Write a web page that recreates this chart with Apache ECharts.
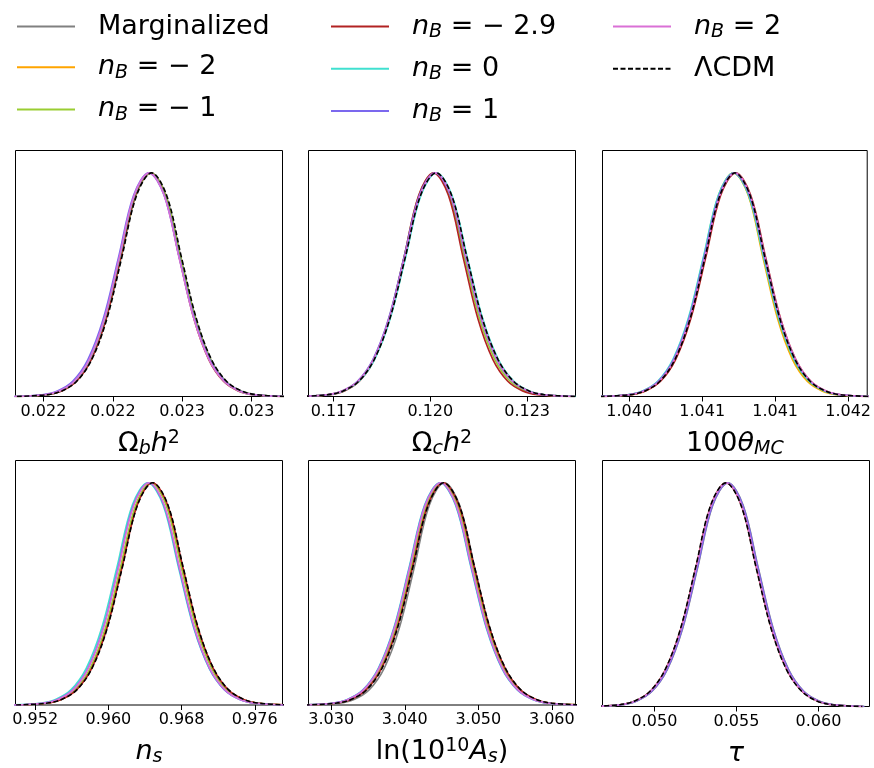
<!DOCTYPE html>
<html><head><meta charset="utf-8">
<script src="https://cdn.jsdelivr.net/npm/echarts@6/dist/echarts.min.js"></script>
<style>html,body{margin:0;padding:0;background:#fff}#c{width:874px;height:768px}</style>
</head><body><div id="c"></div>
<script>
// ---------- DATA ----------
const seriesNames = ['Marginalized', 'n_B = −2', 'n_B = −1', 'n_B = −2.9', 'n_B = 0', 'n_B = 1', 'n_B = 2', 'ΛCDM'];
// normalised marginal density at the sampled points (shared by every curve)
const densityLevels = [0, 0.008, 0.025, 0.068, 0.165, 0.345, 0.62, 0.90, 1, 0.90, 0.62, 0.345, 0.165, 0.068, 0.025, 0.008, 0];

// Omega_b h^2 : parameter values at which each curve reaches the levels above
const obh2_marg = [0.021902, 0.022010, 0.022064, 0.022118, 0.022172, 0.022226, 0.022280, 0.022334, 0.022388, 0.022442, 0.022496, 0.022550, 0.022604, 0.022658, 0.022712, 0.022766, 0.022874];
const obh2_nBm2 = [0.021898, 0.022006, 0.022060, 0.022114, 0.022168, 0.022222, 0.022276, 0.022330, 0.022384, 0.022438, 0.022492, 0.022546, 0.022600, 0.022654, 0.022708, 0.022762, 0.022870];
const obh2_nBm1 = [0.021900, 0.022008, 0.022062, 0.022116, 0.022170, 0.022224, 0.022278, 0.022332, 0.022386, 0.022440, 0.022494, 0.022548, 0.022602, 0.022656, 0.022710, 0.022764, 0.022872];
const obh2_nBm29 = [0.021907, 0.022013, 0.022066, 0.022119, 0.022172, 0.022225, 0.022278, 0.022331, 0.022384, 0.022437, 0.022490, 0.022543, 0.022596, 0.022649, 0.022702, 0.022755, 0.022861];
const obh2_nB0 = [0.021896, 0.022004, 0.022058, 0.022112, 0.022166, 0.022220, 0.022274, 0.022328, 0.022382, 0.022436, 0.022490, 0.022544, 0.022598, 0.022652, 0.022706, 0.022760, 0.022868];
const obh2_nB1 = [0.021885, 0.021995, 0.022050, 0.022105, 0.022160, 0.022215, 0.022270, 0.022325, 0.022380, 0.022435, 0.022490, 0.022545, 0.022600, 0.022655, 0.022710, 0.022765, 0.022875];
const obh2_nB2 = [0.021895, 0.022003, 0.022057, 0.022111, 0.022165, 0.022219, 0.022273, 0.022327, 0.022381, 0.022435, 0.022489, 0.022543, 0.022597, 0.022651, 0.022705, 0.022759, 0.022867];
const obh2_lcdm = [0.021904, 0.022012, 0.022066, 0.022120, 0.022174, 0.022228, 0.022282, 0.022336, 0.022390, 0.022444, 0.022498, 0.022552, 0.022606, 0.022660, 0.022714, 0.022768, 0.022876];
const obh2Range = [0.021899, 0.022862];
const obh2Ticks = [0.0220, 0.02225, 0.0225, 0.02275];
const obh2TickLabels = ['0.022', '0.022', '0.023', '0.023'];

// Omega_c h^2
const och2_marg = [0.11585, 0.11681, 0.11729, 0.11777, 0.11825, 0.11873, 0.11921, 0.11969, 0.12017, 0.12065, 0.12113, 0.12161, 0.12209, 0.12257, 0.12305, 0.12353, 0.12449];
const och2_nBm2 = [0.11583, 0.11679, 0.11727, 0.11775, 0.11823, 0.11871, 0.11919, 0.11967, 0.12015, 0.12063, 0.12111, 0.12159, 0.12207, 0.12255, 0.12303, 0.12351, 0.12447];
const och2_nBm1 = [0.11589, 0.11683, 0.11730, 0.11777, 0.11824, 0.11871, 0.11918, 0.11965, 0.12012, 0.12059, 0.12106, 0.12153, 0.12200, 0.12247, 0.12294, 0.12341, 0.12435];
const och2_nBm29 = [0.11596, 0.11688, 0.11734, 0.11780, 0.11826, 0.11872, 0.11918, 0.11964, 0.12010, 0.12056, 0.12102, 0.12148, 0.12194, 0.12240, 0.12286, 0.12332, 0.12424];
const och2_nB0 = [0.11587, 0.11683, 0.11731, 0.11779, 0.11827, 0.11875, 0.11923, 0.11971, 0.12019, 0.12067, 0.12115, 0.12163, 0.12211, 0.12259, 0.12307, 0.12355, 0.12451];
const och2_nB1 = [0.11582, 0.11678, 0.11726, 0.11774, 0.11822, 0.11870, 0.11918, 0.11966, 0.12014, 0.12062, 0.12110, 0.12158, 0.12206, 0.12254, 0.12302, 0.12350, 0.12446];
const och2_nB2 = [0.11584, 0.11680, 0.11728, 0.11776, 0.11824, 0.11872, 0.11920, 0.11968, 0.12016, 0.12064, 0.12112, 0.12160, 0.12208, 0.12256, 0.12304, 0.12352, 0.12448];
const och2_lcdm = [0.11586, 0.11682, 0.11730, 0.11778, 0.11826, 0.11874, 0.11922, 0.11970, 0.12018, 0.12066, 0.12114, 0.12162, 0.12210, 0.12258, 0.12306, 0.12354, 0.12450];
const och2Range = [0.116224, 0.1245];
const och2Ticks = [0.117, 0.120, 0.123];
const och2TickLabels = ['0.117', '0.120', '0.123'];

// 100 theta_MC
const theta_marg = [1.040293, 1.040499, 1.040602, 1.040705, 1.040808, 1.040911, 1.041014, 1.041117, 1.041220, 1.041323, 1.041426, 1.041529, 1.041632, 1.041735, 1.041838, 1.041941, 1.042147];
const theta_nBm2 = [1.040306, 1.040508, 1.040609, 1.040710, 1.040811, 1.040912, 1.041013, 1.041114, 1.041215, 1.041316, 1.041417, 1.041518, 1.041619, 1.041720, 1.041821, 1.041922, 1.042124];
const theta_nBm1 = [1.040288, 1.040494, 1.040597, 1.040700, 1.040803, 1.040906, 1.041009, 1.041112, 1.041215, 1.041318, 1.041421, 1.041524, 1.041627, 1.041730, 1.041833, 1.041936, 1.042142];
const theta_nBm29 = [1.040303, 1.040509, 1.040612, 1.040715, 1.040818, 1.040921, 1.041024, 1.041127, 1.041230, 1.041333, 1.041436, 1.041539, 1.041642, 1.041745, 1.041848, 1.041951, 1.042157];
const theta_nB0 = [1.040279, 1.040487, 1.040591, 1.040695, 1.040799, 1.040903, 1.041007, 1.041111, 1.041215, 1.041319, 1.041423, 1.041527, 1.041631, 1.041735, 1.041839, 1.041943, 1.042151];
const theta_nB1 = [1.040284, 1.040492, 1.040596, 1.040700, 1.040804, 1.040908, 1.041012, 1.041116, 1.041220, 1.041324, 1.041428, 1.041532, 1.041636, 1.041740, 1.041844, 1.041948, 1.042156];
const theta_nB2 = [1.040289, 1.040497, 1.040601, 1.040705, 1.040809, 1.040913, 1.041017, 1.041121, 1.041225, 1.041329, 1.041433, 1.041537, 1.041641, 1.041745, 1.041849, 1.041953, 1.042161];
const theta_lcdm = [1.040298, 1.040504, 1.040607, 1.040710, 1.040813, 1.040916, 1.041019, 1.041122, 1.041225, 1.041328, 1.041431, 1.041534, 1.041637, 1.041740, 1.041843, 1.041946, 1.042152];
const thetaRange = [1.040317, 1.042131];
const thetaTicks = [1.0405, 1.0410, 1.0415, 1.0420];
const thetaTickLabels = ['1.040', '1.041', '1.041', '1.042'];

// n_s
const ns_marg = [0.94976, 0.95308, 0.95474, 0.95640, 0.95806, 0.95972, 0.96138, 0.96304, 0.96470, 0.96636, 0.96802, 0.96968, 0.97134, 0.97300, 0.97466, 0.97632, 0.97964];
const ns_nBm2 = [0.94981, 0.95313, 0.95479, 0.95645, 0.95811, 0.95977, 0.96143, 0.96309, 0.96475, 0.96641, 0.96807, 0.96973, 0.97139, 0.97305, 0.97471, 0.97637, 0.97969];
const ns_nBm1 = [0.94971, 0.95303, 0.95469, 0.95635, 0.95801, 0.95967, 0.96133, 0.96299, 0.96465, 0.96631, 0.96797, 0.96963, 0.97129, 0.97295, 0.97461, 0.97627, 0.97959];
const ns_nBm29 = [0.94988, 0.95320, 0.95486, 0.95652, 0.95818, 0.95984, 0.96150, 0.96316, 0.96482, 0.96648, 0.96814, 0.96980, 0.97146, 0.97312, 0.97478, 0.97644, 0.97976];
const ns_nB0 = [0.94918, 0.95254, 0.95422, 0.95590, 0.95758, 0.95926, 0.96094, 0.96262, 0.96430, 0.96598, 0.96766, 0.96934, 0.97102, 0.97270, 0.97438, 0.97606, 0.97942];
const ns_nB1 = [0.94946, 0.95278, 0.95444, 0.95610, 0.95776, 0.95942, 0.96108, 0.96274, 0.96440, 0.96606, 0.96772, 0.96938, 0.97104, 0.97270, 0.97436, 0.97602, 0.97934];
const ns_nB2 = [0.94951, 0.95283, 0.95449, 0.95615, 0.95781, 0.95947, 0.96113, 0.96279, 0.96445, 0.96611, 0.96777, 0.96943, 0.97109, 0.97275, 0.97441, 0.97607, 0.97939];
const ns_lcdm = [0.94991, 0.95323, 0.95489, 0.95655, 0.95821, 0.95987, 0.96153, 0.96319, 0.96485, 0.96651, 0.96817, 0.96983, 0.97149, 0.97315, 0.97481, 0.97647, 0.97979];
const nsRange = [0.94985, 0.97903];
const nsTicks = [0.952, 0.960, 0.968, 0.976];
const nsTickLabels = ['0.952', '0.960', '0.968', '0.976'];

// ln(10^10 A_s)
const lnAs_marg = [3.02695, 3.03105, 3.03310, 3.03515, 3.03720, 3.03925, 3.04130, 3.04335, 3.04540, 3.04745, 3.04950, 3.05155, 3.05360, 3.05565, 3.05770, 3.05975, 3.06385];
const lnAs_nBm2 = [3.02620, 3.03040, 3.03250, 3.03460, 3.03670, 3.03880, 3.04090, 3.04300, 3.04510, 3.04720, 3.04930, 3.05140, 3.05350, 3.05560, 3.05770, 3.05980, 3.06400];
const lnAs_nBm1 = [3.02615, 3.03035, 3.03245, 3.03455, 3.03665, 3.03875, 3.04085, 3.04295, 3.04505, 3.04715, 3.04925, 3.05135, 3.05345, 3.05555, 3.05765, 3.05975, 3.06395];
const lnAs_nBm29 = [3.02635, 3.03055, 3.03265, 3.03475, 3.03685, 3.03895, 3.04105, 3.04315, 3.04525, 3.04735, 3.04945, 3.05155, 3.05365, 3.05575, 3.05785, 3.05995, 3.06415];
const lnAs_nB0 = [3.02590, 3.03010, 3.03220, 3.03430, 3.03640, 3.03850, 3.04060, 3.04270, 3.04480, 3.04690, 3.04900, 3.05110, 3.05320, 3.05530, 3.05740, 3.05950, 3.06370];
const lnAs_nB1 = [3.02595, 3.03015, 3.03225, 3.03435, 3.03645, 3.03855, 3.04065, 3.04275, 3.04485, 3.04695, 3.04905, 3.05115, 3.05325, 3.05535, 3.05745, 3.05955, 3.06375];
const lnAs_nB2 = [3.02600, 3.03020, 3.03230, 3.03440, 3.03650, 3.03860, 3.04070, 3.04280, 3.04490, 3.04700, 3.04910, 3.05120, 3.05330, 3.05540, 3.05750, 3.05960, 3.06380];
const lnAs_lcdm = [3.02640, 3.03060, 3.03270, 3.03480, 3.03690, 3.03900, 3.04110, 3.04320, 3.04530, 3.04740, 3.04950, 3.05160, 3.05370, 3.05580, 3.05790, 3.06000, 3.06420];
const lnAsRange = [3.02691, 3.06322];
const lnAsTicks = [3.030, 3.040, 3.050, 3.060];
const lnAsTickLabels = ['3.030', '3.040', '3.050', '3.060'];

// tau
const tau_marg = [0.046155, 0.048005, 0.048930, 0.049855, 0.050780, 0.051705, 0.052630, 0.053555, 0.054480, 0.055405, 0.056330, 0.057255, 0.058180, 0.059105, 0.060030, 0.060955, 0.062805];
const tau_nBm2 = [0.046075, 0.047925, 0.048850, 0.049775, 0.050700, 0.051625, 0.052550, 0.053475, 0.054400, 0.055325, 0.056250, 0.057175, 0.058100, 0.059025, 0.059950, 0.060875, 0.062725];
const tau_nBm1 = [0.046085, 0.047935, 0.048860, 0.049785, 0.050710, 0.051635, 0.052560, 0.053485, 0.054410, 0.055335, 0.056260, 0.057185, 0.058110, 0.059035, 0.059960, 0.060885, 0.062735];
const tau_nBm29 = [0.046045, 0.047895, 0.048820, 0.049745, 0.050670, 0.051595, 0.052520, 0.053445, 0.054370, 0.055295, 0.056220, 0.057145, 0.058070, 0.058995, 0.059920, 0.060845, 0.062695];
const tau_nB0 = [0.046095, 0.047945, 0.048870, 0.049795, 0.050720, 0.051645, 0.052570, 0.053495, 0.054420, 0.055345, 0.056270, 0.057195, 0.058120, 0.059045, 0.059970, 0.060895, 0.062745];
const tau_nB1 = [0.046135, 0.047985, 0.048910, 0.049835, 0.050760, 0.051685, 0.052610, 0.053535, 0.054460, 0.055385, 0.056310, 0.057235, 0.058160, 0.059085, 0.060010, 0.060935, 0.062785];
const tau_nB2 = [0.046065, 0.047915, 0.048840, 0.049765, 0.050690, 0.051615, 0.052540, 0.053465, 0.054390, 0.055315, 0.056240, 0.057165, 0.058090, 0.059015, 0.059940, 0.060865, 0.062715];
const tau_lcdm = [0.046025, 0.047875, 0.048800, 0.049725, 0.050650, 0.051575, 0.052500, 0.053425, 0.054350, 0.055275, 0.056200, 0.057125, 0.058050, 0.058975, 0.059900, 0.060825, 0.062675];
const tauRange = [0.04683, 0.06311];
const tauTicks = [0.050, 0.055, 0.060];
const tauTickLabels = ['0.050', '0.055', '0.060'];

// ---------- STYLE / LAYOUT ----------
const FONT = 'DejaVu Sans';
const lineColors = ['#808080', '#FFA500', '#9ACD32', '#B22222', '#40E0D0', '#7B68EE', '#DA70D6', '#000000'];
const legendRich = {
  'Marginalized': '{t|Marginalized}',
  'n_B = −2': '{i|n}{sb|B}{t| = − 2}',
  'n_B = −1': '{i|n}{sb|B}{t| = − 1}',
  'n_B = −2.9': '{i|n}{sb|B}{t| = − 2.9}',
  'n_B = 0': '{i|n}{sb|B}{t| = 0}',
  'n_B = 1': '{i|n}{sb|B}{t| = 1}',
  'n_B = 2': '{i|n}{sb|B}{t| = 2}',
  'ΛCDM': '{t|ΛCDM}'
};
const richStyles = {
  t: {fontSize: 27, fontFamily: FONT, color: '#000', lineHeight: 30, verticalAlign: 'middle'},
  m: {fontSize: 27, fontFamily: FONT, color: '#000', lineHeight: 30, verticalAlign: 'middle'},
  i: {fontSize: 27, fontFamily: FONT, fontStyle: 'italic', color: '#000', lineHeight: 30, verticalAlign: 'middle'},
  mi: {fontSize: 27, fontFamily: FONT, fontStyle: 'italic', color: '#000', lineHeight: 30, verticalAlign: 'middle'},
  sb: {fontSize: 19, fontFamily: FONT, fontStyle: 'italic', color: '#000', lineHeight: 19, verticalAlign: 'bottom'},
  sp: {fontSize: 19, fontFamily: FONT, color: '#000', lineHeight: 19, verticalAlign: 'top'}
};
const tickRich = {k: {fontSize: 16, fontFamily: FONT, color: '#000', lineHeight: 18}};

const panels = [
  {xs: [obh2_marg, obh2_nBm2, obh2_nBm1, obh2_nBm29, obh2_nB0, obh2_nB1, obh2_nB2, obh2_lcdm], range: obh2Range, ticks: obh2Ticks, labels: obh2TickLabels, title: '{m|Ω}{sb|b}{mi|h}{sp|2}'},
  {xs: [och2_marg, och2_nBm2, och2_nBm1, och2_nBm29, och2_nB0, och2_nB1, och2_nB2, och2_lcdm], range: och2Range, ticks: och2Ticks, labels: och2TickLabels, title: '{m|Ω}{sb|c}{mi|h}{sp|2}'},
  {xs: [theta_marg, theta_nBm2, theta_nBm1, theta_nBm29, theta_nB0, theta_nB1, theta_nB2, theta_lcdm], range: thetaRange, ticks: thetaTicks, labels: thetaTickLabels, title: '{m|100}{mi|θ}{sb|MC}'},
  {xs: [ns_marg, ns_nBm2, ns_nBm1, ns_nBm29, ns_nB0, ns_nB1, ns_nB2, ns_lcdm], range: nsRange, ticks: nsTicks, labels: nsTickLabels, title: '{mi|n}{sb|s}'},
  {xs: [lnAs_marg, lnAs_nBm2, lnAs_nBm1, lnAs_nBm29, lnAs_nB0, lnAs_nB1, lnAs_nB2, lnAs_lcdm], range: lnAsRange, ticks: lnAsTicks, labels: lnAsTickLabels, title: '{m|ln(10}{sp|10}{mi|A}{sb|s}{m|)}'},
  {xs: [tau_marg, tau_nBm2, tau_nBm1, tau_nBm29, tau_nB0, tau_nB1, tau_nB2, tau_lcdm], range: tauRange, ticks: tauTicks, labels: tauTickLabels, title: '{mi|τ}'}
];
const gridLefts = [15.5, 308.5, 602.5, 15.5, 308.5, 602.5];
const gridTops = [150.5, 150.5, 150.5, 460.5, 460.5, 460.5];
const GRID_W = 267, GRID_H = 246;

const grids = [], xAxes = [], yAxes = [], series = [];
panels.forEach((p, pi) => {
  grids.push({left: gridLefts[pi], top: gridTops[pi], width: GRID_W, height: GRID_H, show: true, borderColor: '#000', borderWidth: 1, backgroundColor: 'transparent'});
  xAxes.push({
    type: 'value', gridIndex: pi, min: p.range[0], max: p.range[1],
    axisLine: {show: false}, splitLine: {show: false},
    axisTick: {show: true, customValues: p.ticks, length: 5, inside: false, lineStyle: {color: '#000', width: 1}},
    axisLabel: {customValues: p.ticks, fontSize: 16, fontFamily: FONT, color: '#000', margin: 6, rich: tickRich,
      formatter: (v) => { let best = 0; p.ticks.forEach((t, k) => { if (Math.abs(t - v) < Math.abs(p.ticks[best] - v)) best = k; }); return '{k|' + p.labels[best] + '}'; }},
    name: p.title, nameLocation: 'middle', nameGap: 47,
    nameTextStyle: {align: 'center', verticalAlign: 'middle', fontFamily: FONT, fontSize: 27, color: '#000', rich: richStyles}
  });
  yAxes.push({type: 'value', gridIndex: pi, min: 0, max: 1.1, show: false});
  p.xs.forEach((xv, si) => {
    series.push({
      type: 'line', name: seriesNames[si], xAxisIndex: pi, yAxisIndex: pi,
      data: xv.map((x, k) => [x, densityLevels[k]]),
      smooth: 0.35, symbol: 'none', silent: true, animation: false, clip: true,
      itemStyle: {color: lineColors[si]},
      lineStyle: si === 7 ? {color: '#000', width: 1.6, type: [5, 2.5]} : {color: lineColors[si], width: 1.6}
    });
  });
});

const legendCommon = {
  orient: 'vertical', itemWidth: 58, itemHeight: 14, itemGap: 13.7, padding: 0, selectedMode: false, top: 13,
  itemStyle: {opacity: 0, borderWidth: 0},
  formatter: (n) => legendRich[n],
  textStyle: {padding: [0, 0, 0, 18], rich: richStyles, fontFamily: FONT, fontSize: 27, color: '#000'}
};
const legends = [
  Object.assign({}, legendCommon, {left: 16, data: seriesNames.slice(0, 3)}),
  Object.assign({}, legendCommon, {left: 330, data: seriesNames.slice(3, 6)}),
  Object.assign({}, legendCommon, {left: 612, data: seriesNames.slice(6, 8)})
];

const chart = echarts.init(document.getElementById('c'), null, {renderer: 'canvas'});
chart.setOption({
  backgroundColor: '#fff', animation: false,
  legend: legends, grid: grids, xAxis: xAxes, yAxis: yAxes, series: series
});
</script></body></html>
